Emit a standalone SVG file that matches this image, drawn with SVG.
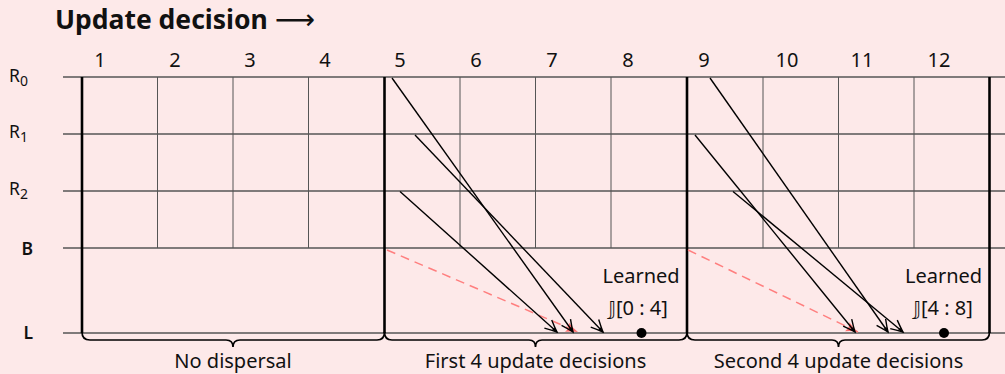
<svg xmlns="http://www.w3.org/2000/svg" width="1005" height="374" viewBox="0 0 1005 374">
<style>
text{font-family:"Noto Sans","DejaVu Sans",sans-serif;fill:#111}
.num{font-size:20px;text-anchor:middle}
.row{font-size:17.5px}
.sub{font-size:14px}
.bl{font-weight:600}
.lbl{font-size:20px;text-anchor:middle}
.hl{stroke:#555;stroke-width:1.6}
.vl{stroke:#555;stroke-width:1}
.tk{stroke:#000;stroke-width:2.6}
.br{fill:none;stroke:#000;stroke-width:1.7}
.arr{stroke:#000;stroke-width:1.4;fill:none;marker-end:url(#ah)}
.dash{stroke:#ff7f7f;stroke-width:1.5;stroke-dasharray:9 6;fill:none;marker-end:url(#rh)}
</style>
<defs>
<marker id="ah" viewBox="-13 -7 15 14" refX="0" refY="0" markerWidth="15" markerHeight="14" orient="auto" markerUnits="userSpaceOnUse">
<path d="M-12,-5.5 Q-5,-2 0,0 Q-5,2 -12,5.5" fill="none" stroke="#000" stroke-width="1.4"/>
<path d="M-5,-1.6 L0,0 L-5,1.6 Z" fill="#000"/>
</marker>
<marker id="rh" viewBox="-13 -7 15 14" refX="0" refY="0" markerWidth="15" markerHeight="14" orient="auto" markerUnits="userSpaceOnUse">
<path d="M-12,-5 Q-6,-1.5 0,0 Q-6,1.5 -12,5 Q-9,0 -12,-5 Z" fill="#ff7070"/>
</marker>
</defs>
<rect width="1005" height="374" fill="#fde9e9"/>

<g id="title">
<text x="55" y="29" style="font-size:26.5px;font-weight:bold">Update decision <tspan style="font-family:'DejaVu Sans',sans-serif;font-weight:normal;font-size:28px">⟶</tspan></text>
</g>

<g id="column-numbers">
<text class="num" x="100" y="67">1</text>
<text class="num" x="175" y="67">2</text>
<text class="num" x="250" y="67">3</text>
<text class="num" x="325" y="67">4</text>
<text class="num" x="400" y="67">5</text>
<text class="num" x="476" y="67">6</text>
<text class="num" x="552" y="67">7</text>
<text class="num" x="628" y="67">8</text>
<text class="num" x="704" y="67">9</text>
<text class="num" x="787" y="67">10</text>
<text class="num" x="862" y="67">11</text>
<text class="num" x="939" y="67">12</text>
</g>

<g id="row-labels">
<text class="row" x="9" y="82">R<tspan class="sub" dy="4">0</tspan></text>
<text class="row" x="9" y="138">R<tspan class="sub" dy="4">1</tspan></text>
<text class="row" x="9" y="195">R<tspan class="sub" dy="4">2</tspan></text>
<text class="row bl" x="33" y="255" text-anchor="end">B</text>
<text class="row bl" x="33" y="339" text-anchor="end">L</text>
</g>

<g id="grid">
<line class="hl" x1="63" y1="77" x2="1005" y2="77"/>
<line class="hl" x1="63" y1="134" x2="1005" y2="134"/>
<line class="hl" x1="63" y1="191" x2="1005" y2="191"/>
<line class="hl" x1="63" y1="248" x2="1005" y2="248"/>
<line class="hl" x1="63" y1="333" x2="1005" y2="333"/>
<line class="vl" x1="157.5" y1="77" x2="157.5" y2="248"/>
<line class="vl" x1="233" y1="77" x2="233" y2="248"/>
<line class="vl" x1="308.5" y1="77" x2="308.5" y2="248"/>
<line class="vl" x1="460" y1="77" x2="460" y2="248"/>
<line class="vl" x1="535.5" y1="77" x2="535.5" y2="248"/>
<line class="vl" x1="611" y1="77" x2="611" y2="248"/>
<line class="vl" x1="763" y1="77" x2="763" y2="248"/>
<line class="vl" x1="838.5" y1="77" x2="838.5" y2="248"/>
<line class="vl" x1="914" y1="77" x2="914" y2="248"/>
</g>

<g id="section-1">
<line class="tk" x1="82" y1="77" x2="82" y2="333"/>
<path class="br" d="M82,332 Q82,340 90,340 L226,340 Q233,340 233,347 Q233,340 240,340 L377,340 Q384.5,340 384.5,332"/>
<text class="lbl" x="233" y="368">No dispersal</text>
</g>

<g id="section-2">
<line class="tk" x1="384.5" y1="77" x2="384.5" y2="333"/>
<path class="br" d="M384.5,332 Q384.5,340 392,340 L529,340 Q535.5,340 535.5,347 Q535.5,340 542,340 L679,340 Q687,340 687,332"/>
<text class="lbl" x="535.5" y="368">First 4 update decisions</text>
<circle cx="641.5" cy="333" r="5" fill="#000"/>
<text class="lbl" x="641" y="283">Learned</text>
<text class="lbl" x="638" y="315">𝕁[0 : 4]</text>
</g>

<g id="section-3">
<line class="tk" x1="687" y1="77" x2="687" y2="333"/>
<line class="tk" x1="989.5" y1="77" x2="989.5" y2="333"/>
<path class="br" d="M687,332 Q687,340 695,340 L832,340 Q838.5,340 838.5,347 Q838.5,340 845,340 L982,340 Q989.5,340 989.5,332"/>
<text class="lbl" x="838.5" y="368">Second 4 update decisions</text>
<circle cx="944" cy="333" r="5" fill="#000"/>
<text class="lbl" x="943.5" y="283">Learned</text>
<text class="lbl" x="943" y="315">𝕁[4 : 8]</text>
</g>

<g id="connectors">
<line class="dash" x1="387" y1="250" x2="578" y2="332"/>
<line class="arr" x1="392" y1="78" x2="573" y2="332"/>
<line class="arr" x1="415" y1="135" x2="603" y2="332"/>
<line class="arr" x1="400" y1="191.5" x2="557" y2="332"/>
<line class="dash" x1="688" y1="250" x2="858" y2="332"/>
<line class="arr" x1="710" y1="78" x2="888" y2="332"/>
<line class="arr" x1="695" y1="135" x2="855" y2="332"/>
<line class="arr" x1="733" y1="191.5" x2="903" y2="332"/>
</g>
</svg>
